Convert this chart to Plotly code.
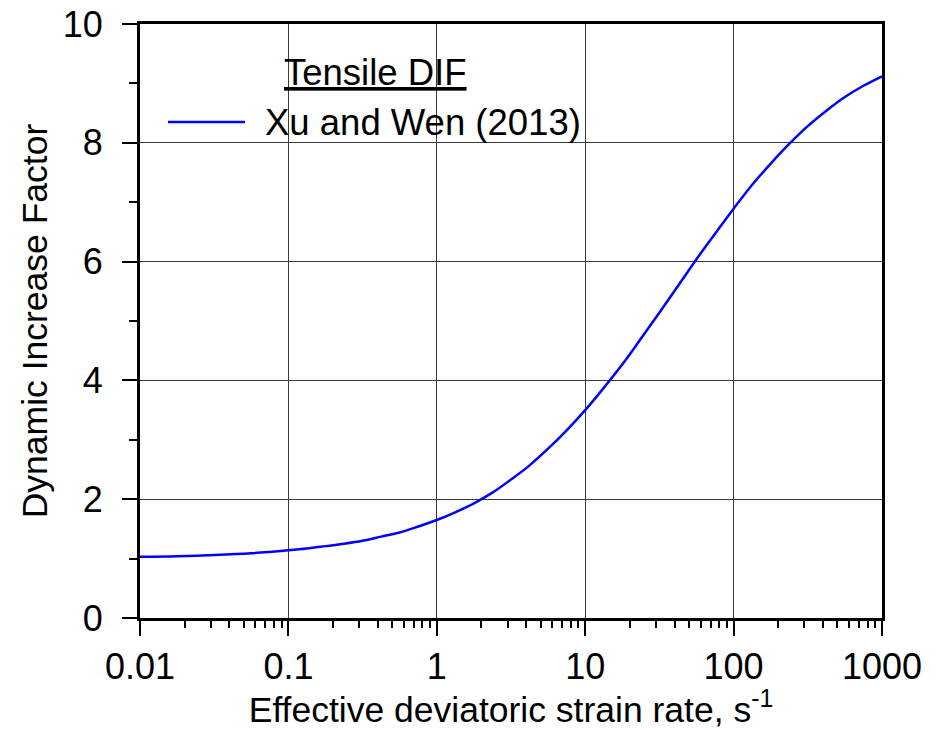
import plotly.graph_objects as go

# ---- data ----
strain_rate = [0.01, 0.0178, 0.0316, 0.0562, 0.1, 0.133, 0.178, 0.237, 0.316, 0.422, 0.562, 0.750,
               1.0, 1.33, 1.78, 2.37, 3.16, 4.22, 5.62, 7.50,
               10.0, 13.3, 17.8, 23.7, 31.6, 42.2, 56.2, 75.0,
               100.0, 133.0, 178.0, 237.0, 316.0, 422.0, 562.0, 750.0, 1000.0]
dif_xu_wen = [1.03, 1.04, 1.06, 1.09, 1.14, 1.17, 1.21, 1.25, 1.30, 1.37, 1.44, 1.54,
              1.65, 1.78, 1.93, 2.11, 2.33, 2.57, 2.85, 3.16,
              3.50, 3.87, 4.27, 4.70, 5.14, 5.59, 6.04, 6.47,
              6.89, 7.29, 7.65, 7.98, 8.28, 8.54, 8.77, 8.96, 9.12]
series_name = "Xu and Wen (2013)"
legend_title = "Tensile DIF"

x_tickvals = [0.01, 0.1, 1, 10, 100, 1000]
x_ticktext = ["0.01", "0.1", "1", "10", "100", "1000"]
x_minorvals = [m * 10.0 ** k for k in range(-2, 3) for m in range(2, 10)]
y_tickvals = [0, 2, 4, 6, 8, 10]
y_minorvals = [1, 3, 5, 7, 9]

FONT = "Arial, Liberation Sans, Helvetica, sans-serif"
TICK_FS = 36
TITLE_FS = 35.5
LEG_FS = 36.5

fig = go.Figure()
fig.add_trace(go.Scatter(
    x=strain_rate, y=dif_xu_wen, mode="lines", name=series_name,
    line=dict(color="#0000ff", width=2.5, shape="spline", smoothing=1.0),
    showlegend=False,
))

axis_common = dict(
    showline=True, linecolor="black", linewidth=3, mirror=True,
    ticks="outside", tickcolor="black", tickwidth=2, ticklen=15,
    showgrid=True, gridcolor="#3a3a3a", gridwidth=1,
    zeroline=False, automargin=False, ticklabeloverflow="allow",
    tickfont=dict(family=FONT, size=TICK_FS, color="black"),
)

# the page body adds an 8px offset to the figure, so margins compensate for it
fig.update_layout(
    width=935, height=722,
    paper_bgcolor="white", plot_bgcolor="white",
    margin=dict(l=132, r=61, t=16, b=112),
    font=dict(family=FONT, size=TICK_FS, color="black"),
    xaxis=dict(
        type="log", range=[-2, 3],
        tickmode="array", tickvals=x_tickvals, ticktext=x_ticktext,
        minor=dict(tickmode="array", tickvals=x_minorvals, ticks="outside",
                   ticklen=7, tickwidth=2, tickcolor="black", showgrid=False),
        title=dict(text="Effective deviatoric strain rate, s<sup>-1</sup>",
                   font=dict(family=FONT, size=TITLE_FS), standoff=6),
        **axis_common,
    ),
    yaxis=dict(
        range=[0, 10],
        tickmode="array", tickvals=y_tickvals,
        ticklabelstandoff=12,
        minor=dict(tickmode="array", tickvals=y_minorvals, ticks="outside",
                   ticklen=8, tickwidth=2, tickcolor="black", showgrid=False),
        title=dict(text="Dynamic Increase Factor",
                   font=dict(family=FONT, size=TITLE_FS), standoff=5),
        **axis_common,
    ),
    showlegend=False,
)

# ---- legend drawn as a white box with a line sample and text ----
fig.add_shape(type="rect", xref="paper", yref="paper",
              x0=0.0135, x1=0.62, y0=0.768, y1=0.9865,
              fillcolor="white", line=dict(width=0), layer="between")
fig.add_shape(type="line", xref="paper", yref="paper",
              x0=0.0377, x1=0.1415, y0=0.835, y1=0.835,
              line=dict(color="#0000ff", width=2.5), layer="above")
fig.add_annotation(xref="paper", yref="paper", x=0.1658, y=0.835,
                   xanchor="left", yanchor="middle", showarrow=False,
                   text=series_name, font=dict(family=FONT, size=LEG_FS, color="black"))
fig.add_annotation(xref="paper", yref="paper", x=0.191, y=0.919,
                   xanchor="left", yanchor="middle", showarrow=False,
                   text="<u>" + legend_title + "</u>",
                   font=dict(family=FONT, size=LEG_FS, color="black"))

fig.write_html("out.html")
